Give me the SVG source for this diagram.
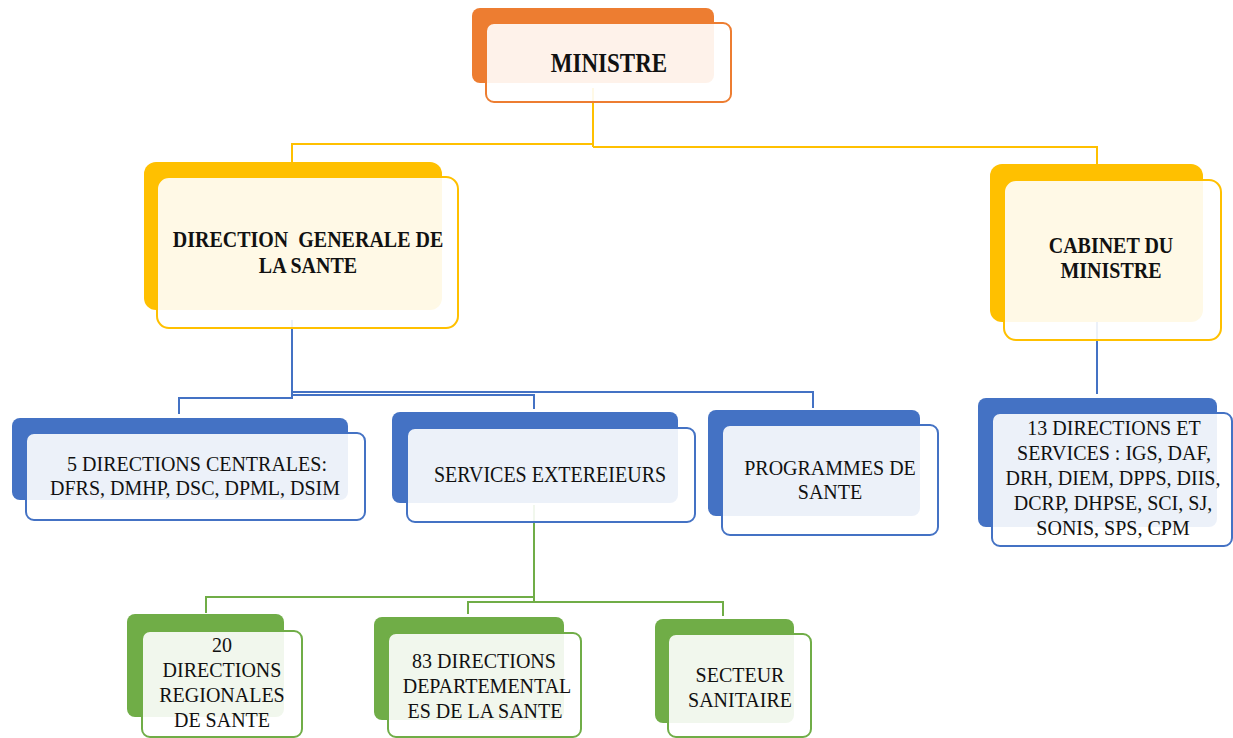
<svg xmlns="http://www.w3.org/2000/svg" width="1233" height="738" viewBox="0 0 1233 738">
<style>
.bg{fill:#fff}
.back{stroke:none}
.front{fill:#fff;fill-opacity:0.9;stroke-width:2}
.o .back{fill:#ED7D31}.o .front{stroke:#ED7D31}
.y .back{fill:#FFC000}.y .front{stroke:#FFC000}
.b .back{fill:#4472C4}.b .front{stroke:#4472C4}
.g .back{fill:#70AD47}.g .front{stroke:#70AD47}
text{font-family:"Liberation Serif","Times New Roman",serif;fill:#111;text-anchor:middle;white-space:pre}
.h{font-weight:bold;font-size:20px}
.r{font-size:20px}
.cy{fill:none;stroke:#FFC000;stroke-width:2}
.cb{fill:none;stroke:#4472C4;stroke-width:2}
.cg{fill:none;stroke:#70AD47;stroke-width:2}
</style>
<rect class="bg" x="0" y="0" width="1233" height="738"/>
<g id="connectors">
<path class="cy" d="M593 88V147M593 144H292V162M593 147H1097V164"/>
<path class="cb" d="M292 320V398H179V414M292 395H534V409M292 392H813V408M1097 322V394"/>
<path class="cg" d="M534 505V602M534 597H206V613M468 614V602H723V616"/>
</g>
<g id="ministre" class="o">
<rect class="back" x="472" y="8" width="242" height="75" rx="8"/>
<rect class="front" x="486" y="23" width="245" height="79" rx="8"/>
<text class="h" style="font-size:23px" transform="translate(609,72) scale(1,1.2)">MINISTRE</text>
</g>
<g id="dgs" class="y">
<rect class="back" x="144" y="162" width="298" height="148" rx="12"/>
<rect class="front" x="157" y="177" width="301" height="151" rx="12"/>
<text class="h" transform="translate(308,247) scale(1,1.15)">DIRECTION  GENERALE DE</text>
<text class="h" transform="translate(308,273) scale(1,1.15)">LA SANTE</text>
</g>
<g id="cabinet" class="y">
<rect class="back" x="990" y="164" width="213" height="158" rx="12"/>
<rect class="front" x="1004" y="180" width="217" height="160" rx="12"/>
<text class="h" transform="translate(1111,253) scale(1,1.12)">CABINET DU</text>
<text class="h" transform="translate(1111,278) scale(1,1.12)">MINISTRE</text>
</g>
<g id="directions-centrales" class="b">
<rect class="back" x="12" y="418" width="336" height="82" rx="8"/>
<rect class="front" x="26" y="433" width="339" height="87" rx="8"/>
<text class="r" transform="translate(197,471) scale(1,1.1)">5 DIRECTIONS CENTRALES:</text>
<text class="r" transform="translate(195,495) scale(1,1.1)">DFRS, DMHP, DSC, DPML, DSIM</text>
</g>
<g id="services-exterieurs" class="b">
<rect class="back" x="392" y="412" width="286" height="91" rx="8"/>
<rect class="front" x="407" y="428" width="288" height="94" rx="8"/>
<text class="r" transform="translate(550,482) scale(1,1.2)">SERVICES EXTEREIEURS</text>
</g>
<g id="programmes" class="b">
<rect class="back" x="708" y="410" width="212" height="106" rx="8"/>
<rect class="front" x="722" y="425" width="216" height="110" rx="8"/>
<text class="r" transform="translate(830,475) scale(1,1.1)">PROGRAMMES DE</text>
<text class="r" transform="translate(830,499) scale(1,1.1)">SANTE</text>
</g>
<g id="treize-directions" class="b">
<rect class="back" x="978" y="398" width="239" height="129" rx="8"/>
<rect class="front" x="992" y="413" width="240" height="133" rx="8"/>
<text class="r" transform="translate(1114,435) scale(1,1.1)">13 DIRECTIONS ET</text>
<text class="r" transform="translate(1114,460) scale(1,1.1)">SERVICES : IGS, DAF,</text>
<text class="r" transform="translate(1113,485) scale(1,1.1)">DRH, DIEM, DPPS, DIIS,</text>
<text class="r" transform="translate(1113,510) scale(1,1.1)">DCRP, DHPSE, SCI, SJ,</text>
<text class="r" transform="translate(1113,535) scale(1,1.1)">SONIS, SPS, CPM</text>
</g>
<g id="regionales" class="g">
<rect class="back" x="127" y="614" width="157" height="103" rx="8"/>
<rect class="front" x="142" y="631" width="160" height="106" rx="8"/>
<text class="r" transform="translate(222,652) scale(1,1.1)">20</text>
<text class="r" transform="translate(222,677) scale(1,1.1)">DIRECTIONS</text>
<text class="r" transform="translate(222,702) scale(1,1.1)">REGIONALES</text>
<text class="r" transform="translate(222,727) scale(1,1.1)">DE SANTE</text>
</g>
<g id="departementales" class="g">
<rect class="back" x="374" y="617" width="190" height="103" rx="8"/>
<rect class="front" x="388" y="633" width="193" height="104" rx="8"/>
<text class="r" transform="translate(484,668) scale(1,1.1)">83 DIRECTIONS</text>
<text class="r" transform="translate(487,693) scale(1,1.1)">DEPARTEMENTAL</text>
<text class="r" transform="translate(485,718) scale(1,1.1)">ES DE LA SANTE</text>
</g>
<g id="secteur" class="g">
<rect class="back" x="655" y="619" width="139" height="104" rx="8"/>
<rect class="front" x="668" y="634" width="143" height="103" rx="8"/>
<text class="r" transform="translate(740,682) scale(1,1.1)">SECTEUR</text>
<text class="r" transform="translate(740,707) scale(1,1.1)">SANITAIRE</text>
</g>
</svg>
